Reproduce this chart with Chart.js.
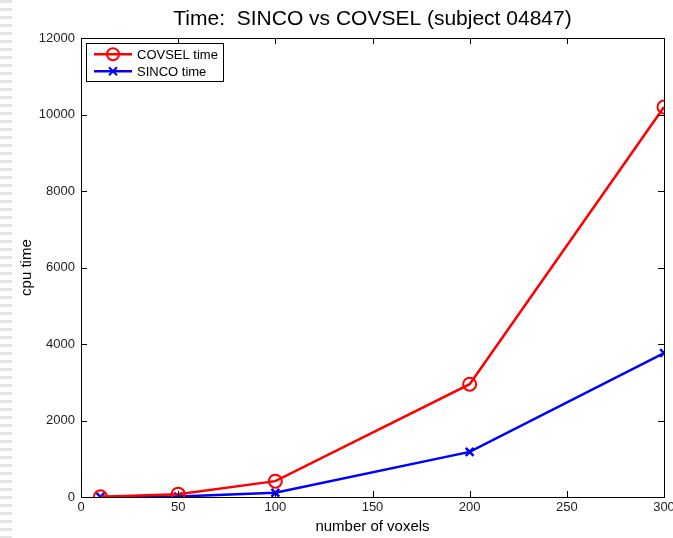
<!DOCTYPE html>
<html>
<head>
<meta charset="utf-8">
<script src="https://cdn.jsdelivr.net/npm/chart.js@4/dist/chart.umd.min.js"></script>
<style>
  html, body { margin: 0; padding: 0; background: #fff; }
  #wrap { position: relative; width: 673px; height: 538px; }
  #stripes {
    position: absolute; left: 0; top: 0; width: 12px; height: 538px;
    background: repeating-linear-gradient(to bottom, #e4e4e4 0 3px, #fff 3px 8px);
  }
  canvas { position: absolute; left: 0; top: 0; }
</style>
</head>
<body>
<div id="wrap">
  <div id="stripes"></div>
  <canvas id="c" width="673" height="538"></canvas>
</div>
<script>
const voxels = [10, 50, 100, 200, 300];
const covselTime = [5, 75, 415, 2950, 10200];
const sincoTime = [3, 12, 110, 1180, 3765];
const xTicks = [0, 50, 100, 150, 200, 250, 300];
const yTicks = [0, 2000, 4000, 6000, 8000, 10000, 12000];

const FONT = "'Liberation Sans', Arial, Helvetica, sans-serif";

// MATLAB style frame with inward ticks on all four sides
const framePlugin = {
  id: "frame",
  afterDatasetsDraw(chart) {
    const { ctx, chartArea: a, scales } = chart;
    ctx.save();
    ctx.strokeStyle = "#000";
    ctx.lineWidth = 1;
    const len = 6;
    ctx.beginPath();
    xTicks.forEach((v) => {
      const x = Math.round(scales.x.getPixelForValue(v)) + 0.5;
      ctx.moveTo(x, a.bottom); ctx.lineTo(x, a.bottom - len);
      ctx.moveTo(x, a.top); ctx.lineTo(x, a.top + len);
    });
    yTicks.forEach((v) => {
      const y = Math.round(scales.y.getPixelForValue(v)) + 0.5;
      ctx.moveTo(a.left, y); ctx.lineTo(a.left + len, y);
      ctx.moveTo(a.right, y); ctx.lineTo(a.right - len, y);
    });
    ctx.stroke();
    ctx.strokeRect(Math.round(a.left) + 0.5, Math.round(a.top) + 0.5,
      Math.round(a.right - a.left), Math.round(a.bottom - a.top));

    // legend box
    const lx = a.left + 5, ly = a.top + 5, lw = 137, lh = 38;
    ctx.fillStyle = "#fff";
    ctx.fillRect(lx, ly, lw, lh);
    ctx.strokeRect(Math.round(lx) + 0.5, Math.round(ly) + 0.5, lw, lh);
    ctx.font = "13px " + FONT;
    ctx.textBaseline = "middle";
    chart.data.datasets.forEach((ds, i) => {
      const y = ly + 11 + i * 17;
      ctx.strokeStyle = ds.borderColor;
      ctx.lineWidth = 2.5;
      ctx.beginPath();
      ctx.moveTo(lx + 8, y); ctx.lineTo(lx + 46, y);
      ctx.stroke();
      ctx.lineWidth = 2;
      ctx.beginPath();
      if (ds.pointStyle === "circle") {
        ctx.arc(lx + 27, y, 6, 0, Math.PI * 2);
      } else {
        const r = 4;
        ctx.moveTo(lx + 27 - r, y - r); ctx.lineTo(lx + 27 + r, y + r);
        ctx.moveTo(lx + 27 + r, y - r); ctx.lineTo(lx + 27 - r, y + r);
      }
      ctx.stroke();
      ctx.fillStyle = "#000";
      ctx.fillText(ds.label, lx + 51, y + 1);
    });
    ctx.restore();
  },
};

new Chart(document.getElementById("c"), {
  type: "line",
  data: {
    datasets: [
      {
        label: "COVSEL time",
        data: voxels.map((v, i) => ({ x: v, y: covselTime[i] })),
        borderColor: "#ff0000",
        backgroundColor: "rgba(0,0,0,0)",
        borderWidth: 2.5,
        pointStyle: "circle",
        pointRadius: 6.5,
        pointBorderWidth: 2,
        tension: 0,
      },
      {
        label: "SINCO time",
        data: voxels.map((v, i) => ({ x: v, y: sincoTime[i] })),
        borderColor: "#0000ff",
        backgroundColor: "rgba(0,0,0,0)",
        borderWidth: 2.5,
        pointStyle: "crossRot",
        pointRadius: 5.5,
        pointBorderWidth: 2.5,
        tension: 0,
      },
    ],
  },
  options: {
    responsive: false,
    animation: false,
    layout: { padding: { top: 0, right: 9, bottom: 0, left: 18 } },
    plugins: {
      legend: { display: false },
      tooltip: { enabled: false },
      title: {
        display: true,
        fullSize: false,
        text: "Time:  SINCO vs COVSEL (subject 04847)",
        color: "#000",
        font: { family: FONT, size: 21, weight: "normal" },
        padding: { top: 7, bottom: 6 },
      },
    },
    scales: {
      x: {
        type: "linear",
        min: 0,
        max: 300,
        afterBuildTicks: (s) => { s.ticks = xTicks.map((v) => ({ value: v })); },
        afterFit: (s) => { s.height = 41; s.paddingLeft = 0; s.paddingRight = 0; },
        grid: { display: false, drawTicks: false, tickLength: 0 },
        border: { display: false },
        ticks: {
          color: "#222", padding: 3, maxRotation: 0,
          font: { family: FONT, size: 13 },
          callback: (v) => String(v),
        },
        title: {
          display: true,
          text: "number of voxels",
          color: "#000",
          font: { family: FONT, size: 15 },
          padding: { top: 0, bottom: 2 },
        },
      },
      y: {
        type: "linear",
        min: 0,
        max: 12000,
        afterBuildTicks: (s) => { s.ticks = yTicks.map((v) => ({ value: v })); },
        afterFit: (s) => { s.width = 63; s.paddingTop = 0; s.paddingBottom = 0; },
        grid: { display: false, drawTicks: false, tickLength: 0 },
        border: { display: false },
        ticks: {
          color: "#222", padding: 6,
          font: { family: FONT, size: 13 },
          callback: (v) => String(v),
        },
        title: {
          display: true,
          text: "cpu time",
          color: "#000",
          font: { family: FONT, size: 15 },
          padding: { top: 0, bottom: 0 },
        },
      },
    },
  },
  plugins: [framePlugin],
});
</script>
</body>
</html>
